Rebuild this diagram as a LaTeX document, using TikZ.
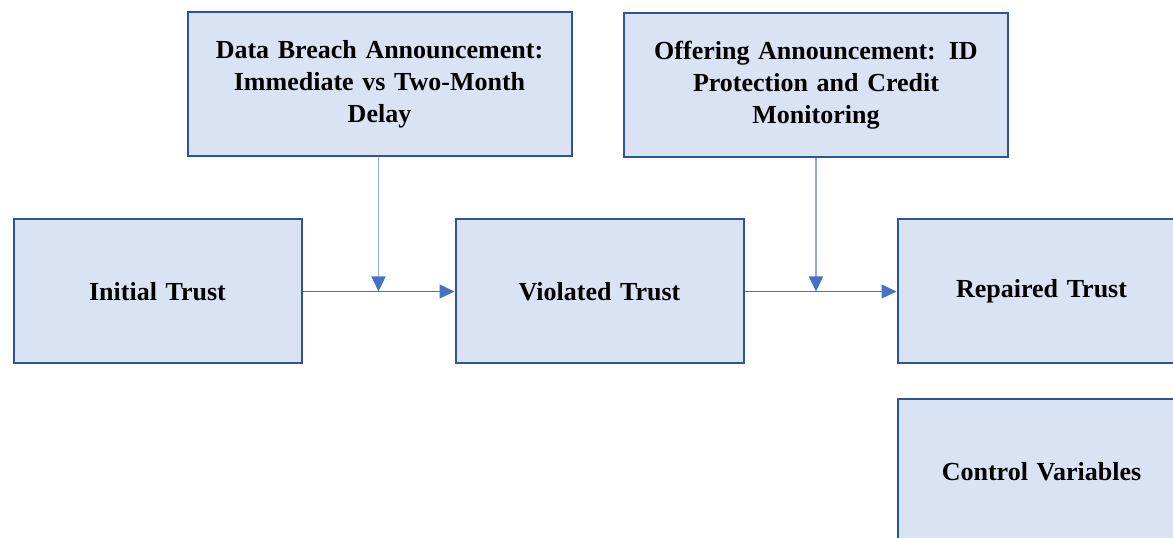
\documentclass[tikz,border=0pt]{standalone}
\usepackage{fontspec}
\setmainfont{Liberation Serif}
\usepackage{tikz}
\usetikzlibrary{arrows.meta,positioning,calc}
\definecolor{boxline}{HTML}{2F5496}
\definecolor{boxfill}{HTML}{DAE3F3}
\definecolor{flow}{HTML}{4472C4}
\definecolor{flowlight}{HTML}{8EA9DB}

\begin{document}
\begin{tikzpicture}[
    x=1pt, y=1pt,
    box/.style={draw=boxline, fill=boxfill, line width=2pt, minimum width=288pt, minimum height=144pt, text width=275pt, align=center, font=\fontsize{26}{32}\selectfont\bfseries},
    topbox/.style={box, minimum width=384pt, text width=370pt},
    arrow/.style={-{Triangle[length=15pt,width=14pt,color=flow]}, line width=1.4pt, flow},
    moderator/.style={arrow, flowlight}
]
    \useasboundingbox (0,0) rectangle (1173,538);
    \clip (0,0) rectangle (1173,538);
    \node[topbox] (breach) at (379.5,454) {Data Breach Announcement:\\ Immediate vs Two-Month\\ Delay};
    \node[topbox] (offer) at (816,452.5) {Offering Announcement: ID\\ Protection and Credit\\ Monitoring};
    \node[box] (initial) at (157.5,246.5) {Initial Trust};
    \node[box, right=152pt of initial] (violated) {Violated Trust};
    \node[box, right=152pt of violated] (repaired) {Repaired Trust};
    \node[box, below=34pt of repaired] (control) {Control Variables};

    \coordinate (join1) at ($(initial.east)!0.5!(violated.west)$);
    \coordinate (join2) at (offer.south |- violated.east);

    \draw[arrow] (initial) -- (violated);
    \draw[arrow] (violated) -- (repaired);
    \draw[moderator] (breach.south -| join1) -- (join1);
    \draw[moderator] (offer.south) -- (join2);
\end{tikzpicture}
\end{document}
